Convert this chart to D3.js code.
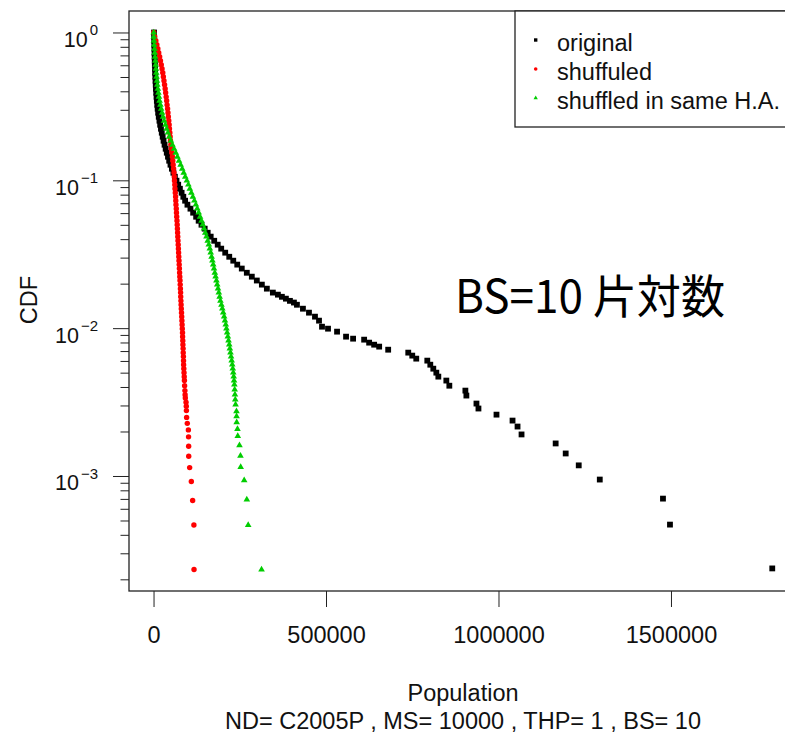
<!DOCTYPE html>
<html>
<head>
<meta charset="utf-8">
<script src="https://cdn.jsdelivr.net/npm/d3@7"></script>
<style>
  body { margin: 0; background: #fff; }
  svg { display: block; font-family: "Liberation Sans", Arial, sans-serif; }
</style>
</head>
<body>
<div id="chart"></div>
<script>
// data //////////////////////////////////////////////////////////////
// CDF levels shared by the dense (continuous-looking) part of each series
const cdfLevels = [
  1.0, 0.935, 0.879, 0.826, 0.776, 0.729, 0.685, 0.644, 0.605, 0.568,
  0.534, 0.502, 0.471, 0.443, 0.416, 0.391, 0.367, 0.345, 0.324, 0.305,
  0.2865, 0.269, 0.253, 0.2376, 0.2233, 0.2099, 0.1972, 0.1852, 0.1741, 0.1635,
  0.1537, 0.1444, 0.1357, 0.1275, 0.1198, 0.1125, 0.1057, 0.0994, 0.0934, 0.0877,
  0.0824, 0.0774, 0.0728, 0.0684, 0.0643, 0.0604, 0.0567, 0.0533, 0.0501, 0.0471,
  0.0442, 0.0416, 0.0390, 0.0367, 0.0345, 0.0324, 0.0304, 0.0286, 0.0269, 0.0253,
  0.0237, 0.0223, 0.0210, 0.0197, 0.0185, 0.0174, 0.0163, 0.0153, 0.0144, 0.01354,
  0.01273, 0.01196, 0.01124, 0.01056, 0.00992, 0.00932, 0.00876, 0.00823, 0.00773, 0.00727,
  0.00683, 0.00642, 0.00603, 0.00566, 0.00532, 0.00500, 0.00470, 0.00442
];

// population values matching cdfLevels (dense part)
const originalPop = [
  1450, 1740, 2030, 2330, 2620, 2910, 3200, 3490, 3780, 4360,
  4650, 5230, 5810, 6400, 6980, 7850, 8720, 9590, 10760, 11920,
  13370, 15120, 17150, 19190, 21510, 23840, 26450, 29070, 31980, 35170,
  38370, 41860, 45350, 49130, 53200, 57560, 61920, 66570, 71510, 76450,
  81400, 86340, 91570, 98260, 107000, 114800, 123500, 130800, 139000, 148300,
  157000, 165700, 175900, 186000, 196200, 207800, 219500, 231100, 242700, 255800,
  270400, 284900, 299400, 314000, 328500, 345900, 372100, 395400, 415700, 433100,
  450600, 468000, 479700
];
const shuffledPop = [
  800, 3490, 6690, 9590, 12500, 15120, 17730, 20060, 22390, 24710,
  26740, 28490, 30230, 31980, 33720, 35170, 36630, 38080, 39240, 40700,
  41860, 43020, 44190, 45350, 46220, 47380, 48260, 49130, 50290, 51450,
  52910, 54650, 55810, 56980, 58140, 59300, 60170, 60760, 61630, 62210,
  63080, 63950, 64540, 65120, 65990, 66570, 67150, 68020, 68610, 69190,
  69770, 70350, 70930, 71510, 72090, 72680, 73260, 73840, 74420, 75000,
  75580, 76160, 76750, 77330, 77910, 78490, 78780, 79360, 79940, 80520,
  81110, 81690, 82270, 82850, 83430, 84010, 84300, 84880, 85180, 85760,
  86050, 86630, 86920, 87210, 87790, 88370, 88950, 89540
];
const sameHAPop = [
  600, 800, 1200, 2000, 2900, 3500, 4400, 5200, 6100, 7000,
  7800, 8700, 9900, 11000, 12500, 14000, 15700, 17400, 19800, 22100,
  24700, 27600, 30800, 34300, 37800, 41600, 45600, 50300, 54700, 59600,
  64500, 69200, 73800, 78500, 83100, 87500, 91900, 96500, 100900, 105200,
  109600, 114000, 118300, 122700, 126700, 130800, 134900, 139000, 142700, 146500,
  150000, 153500, 157000, 160200, 163100, 165700, 168300, 170600, 173000, 175300,
  177600, 179900, 182300, 184600, 186900, 189200, 191600, 193900, 196800, 199400,
  202000, 204700, 207000, 209300, 211300, 213400, 215400, 217400, 219500, 221200,
  223000, 224700, 226500, 228200, 229700, 231100, 232300, 233400
];

// sparse tails: [population, CDF]
const originalTail = [
  [360500, 0.01685], [383700, 0.01583], [407000, 0.0149],
  [488400, 0.01023], [505800, 0.00992], [532000, 0.00947], [558100, 0.00876],
  [578500, 0.00849], [610500, 0.00836], [625000, 0.00798], [639500, 0.00773],
  [654100, 0.00750], [680200, 0.00715], [738400, 0.00683], [750000, 0.00652],
  [761600, 0.00622], [793600, 0.00603], [802300, 0.00566], [811000, 0.00532],
  [819800, 0.00500], [825600, 0.00470], [848800, 0.00442], [857500, 0.00408],
  [904000, 0.00378], [906900, 0.00350], [936100, 0.00309], [941900, 0.00286],
  [994200, 0.00260], [1040700, 0.00237], [1055200, 0.00216], [1066800, 0.00191],
  [1165700, 0.00166], [1194800, 0.00142], [1232600, 0.00118], [1293600, 0.000946],
  [1476800, 0.000703], [1497100, 0.000469], [1793600, 0.000237]
];
const shuffledTail = [
  [90120, 0.00408], [90990, 0.00378], [91570, 0.00355], [92150, 0.00337],
  [94200, 0.00315], [95000, 0.00296], [95300, 0.00277], [95900, 0.00249],
  [97900, 0.00227], [101000, 0.00205], [101500, 0.00184], [101800, 0.00159],
  [102000, 0.00136], [104700, 0.00114], [109600, 0.000917], [113400, 0.000682],
  [117000, 0.000466], [117400, 0.000233]
];
const sameHATail = [
  [234300, 0.00415], [235200, 0.00384], [236000, 0.00355], [236900, 0.00329],
  [237800, 0.00304], [240400, 0.00274], [240700, 0.00253], [241000, 0.00231],
  [243300, 0.00208], [244200, 0.00186], [249100, 0.00161], [252000, 0.00137],
  [252600, 0.00115], [262800, 0.000935], [270400, 0.000692], [274400, 0.000466],
  [313100, 0.000233]
];

const xTicks = [0, 500000, 1000000, 1500000];
const yMajor = [1, 0.1, 0.01, 0.001];
const yMajorExp = ["0", "\u22121", "\u22122", "\u22123"];
const legendLabels = ["original", "shuffuled", "shuffled in same H.A."];
const seriesColors = ["#000000", "#ff0000", "#00cd00"];

// layout ////////////////////////////////////////////////////////////
const width = 785, height = 736;
const plot = { left: 129, right: 797, top: 11, bottom: 591 };

const series = [
  originalPop.map((p, i) => [p, cdfLevels[i]]).concat(originalTail),
  shuffledPop.map((p, i) => [p, cdfLevels[i]]).concat(shuffledTail),
  sameHAPop.map((p, i) => [p, cdfLevels[i]]).concat(sameHATail)
];

// R-style 4% padding of the data range
const allPts = series.flat();
const xExt = d3.extent(allPts, d => d[0]);
const xPad = (xExt[1] - xExt[0]) * 0.04;
const x = d3.scaleLinear()
  .domain([xExt[0] - xPad, xExt[1] + xPad])
  .range([plot.left, plot.right]);

const yExt = d3.extent(allPts, d => Math.log10(d[1]));
const yPad = (yExt[1] - yExt[0]) * 0.04;
const y = d3.scaleLog()
  .domain([Math.pow(10, yExt[0] - yPad), Math.pow(10, yExt[1] + yPad)])
  .range([plot.bottom, plot.top]);

const svg = d3.select("#chart").append("svg")
  .attr("width", width)
  .attr("height", height);

svg.append("rect")
  .attr("width", width).attr("height", height)
  .attr("fill", "#fff");

// points
const pointsG = svg.append("g");

// original: filled squares
pointsG.append("g").selectAll("rect")
  .data(series[0])
  .join("rect")
  .attr("x", d => x(d[0]) - 2.9)
  .attr("y", d => y(d[1]) - 2.9)
  .attr("width", 5.8)
  .attr("height", 5.8)
  .attr("fill", seriesColors[0]);

// shuffled: filled circles
pointsG.append("g").selectAll("circle")
  .data(series[1])
  .join("circle")
  .attr("cx", d => x(d[0]))
  .attr("cy", d => y(d[1]))
  .attr("r", 2.7)
  .attr("fill", seriesColors[1]);

// shuffled in same H.A.: filled triangles
const tri = d3.symbol().type(d3.symbolTriangle).size(19);
pointsG.append("g").selectAll("path")
  .data(series[2])
  .join("path")
  .attr("transform", d => `translate(${x(d[0])},${y(d[1])})`)
  .attr("d", tri)
  .attr("fill", seriesColors[2]);

// axes
const axisColor = "#222";

const xAxis = svg.append("g")
  .attr("transform", `translate(0,${plot.bottom})`)
  .style("color", axisColor)
  .call(d3.axisBottom(x).tickValues(xTicks).tickSize(16).tickSizeOuter(0).tickFormat(d3.format("d")));
xAxis.select(".domain").remove();
xAxis.selectAll(".tick text")
  .attr("y", 52)
  .attr("dy", null)
  .attr("fill", "#111")
  .style("font-family", "'Liberation Sans', Arial, sans-serif")
  .style("font-size", "23.5px");

// y: minor ticks (2..9 x 10^k)
const yMinor = y.ticks().filter(v => Math.abs(Math.log10(v) - Math.round(Math.log10(v))) > 1e-6);
const yMinorAxis = svg.append("g")
  .attr("transform", `translate(${plot.left},0)`)
  .style("color", axisColor)
  .call(d3.axisLeft(y).tickValues(yMinor).tickSize(8.5).tickSizeOuter(0).tickFormat(""));
yMinorAxis.select(".domain").remove();

// y: major ticks with 10^k labels
const yAxis = svg.append("g")
  .attr("transform", `translate(${plot.left},0)`)
  .style("color", axisColor)
  .call(d3.axisLeft(y).tickValues(yMajor).tickSize(16).tickSizeOuter(0).tickFormat(""));
yAxis.select(".domain").remove();
yAxis.selectAll(".tick text").each(function (d, i) {
  const t = d3.select(this)
    .attr("x", -31)
    .attr("y", 14)
    .attr("dy", null)
    .attr("text-anchor", "end")
    .attr("fill", "#111")
    .style("font-family", "'Liberation Sans', Arial, sans-serif")
    .style("font-size", "21.5px");
  t.append("tspan").text("10");
  t.append("tspan")
    .attr("dx", 2)
    .attr("dy", -11.5)
    .style("font-size", "15px")
    .text(yMajorExp[i]);
});

// frame
svg.append("rect")
  .attr("x", plot.left)
  .attr("y", plot.top)
  .attr("width", plot.right - plot.left)
  .attr("height", plot.bottom - plot.top)
  .attr("fill", "none")
  .attr("stroke", axisColor)
  .attr("stroke-width", 1.3);

// legend
const legend = svg.append("g");
legend.append("rect")
  .attr("x", 515)
  .attr("y", plot.top)
  .attr("width", plot.right - 515)
  .attr("height", 116)
  .attr("fill", "#fff")
  .attr("stroke", axisColor)
  .attr("stroke-width", 1.3);

const legendRowY = [40, 69, 98];
const legendTextY = [51, 80, 108.5];

legend.append("rect")
  .attr("x", 534).attr("y", legendRowY[0] - 1.7)
  .attr("width", 3.4).attr("height", 3.4)
  .attr("fill", seriesColors[0]);
legend.append("circle")
  .attr("cx", 535.7).attr("cy", legendRowY[1])
  .attr("r", 1.8)
  .attr("fill", seriesColors[1]);
legend.append("path")
  .attr("transform", `translate(535.7,${legendRowY[2]})`)
  .attr("d", d3.symbol().type(d3.symbolTriangle).size(8))
  .attr("fill", seriesColors[2]);

legend.selectAll("text.lab")
  .data(legendLabels)
  .join("text")
  .attr("class", "lab")
  .attr("x", 557)
  .attr("y", (d, i) => legendTextY[i])
  .attr("fill", "#111")
  .style("font-size", "23.5px")
  .text(d => d);

// axis titles
svg.append("text")
  .attr("transform", "translate(37,300) rotate(-90)")
  .attr("text-anchor", "middle")
  .attr("fill", "#111")
  .style("font-size", "23.5px")
  .text("CDF");

const midX = (plot.left + plot.right) / 2;
svg.append("text")
  .attr("x", midX)
  .attr("y", 701)
  .attr("text-anchor", "middle")
  .attr("fill", "#111")
  .style("font-size", "23.5px")
  .text("Population");

svg.append("text")
  .attr("x", midX)
  .attr("y", 729)
  .attr("text-anchor", "middle")
  .attr("fill", "#111")
  .style("font-size", "23.5px")
  .text("ND= C2005P , MS= 10000 , THP= 1 , BS= 10");

// overlay note
svg.append("text")
  .attr("x", 455)
  .attr("y", 313)
  .attr("textLength", 270)
  .attr("lengthAdjust", "spacingAndGlyphs")
  .attr("fill", "#000")
  .style("font-family", "'Noto Sans CJK JP', 'Noto Sans', sans-serif")
  .style("font-size", "46px")
  .text("BS=10 片対数");
</script>
</body>
</html>
